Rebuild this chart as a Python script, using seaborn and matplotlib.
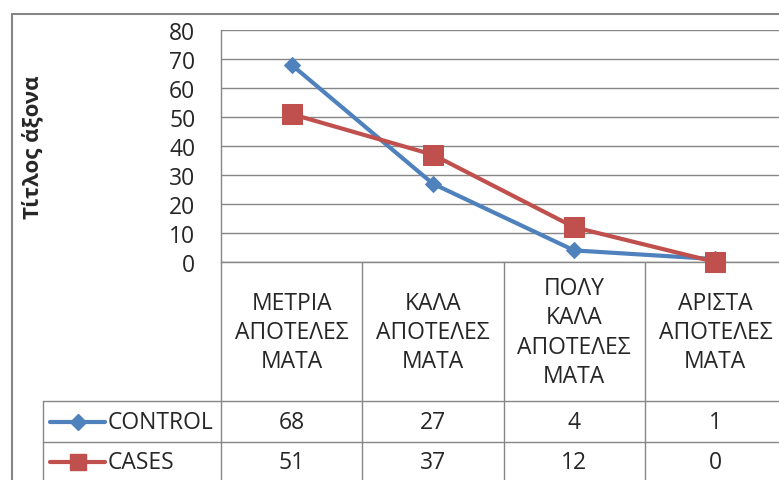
import numpy as np
import pandas as pd
import seaborn as sns
import matplotlib.pyplot as plt
from matplotlib import transforms
from matplotlib.lines import Line2D

#%% Data
categories = ['ΜΕΤΡΙΑ\nΑΠΟΤΕΛΕΣ\nΜΑΤΑ', 'ΚΑΛΑ\nΑΠΟΤΕΛΕΣ\nΜΑΤΑ',
              'ΠΟΛΥ\nΚΑΛΑ\nΑΠΟΤΕΛΕΣ\nΜΑΤΑ', 'ΑΡΙΣΤΑ\nΑΠΟΤΕΛΕΣ\nΜΑΤΑ']
control = [68, 27, 4, 1]
cases = [51, 37, 12, 0]
series_names = ['CONTROL', 'CASES']
y_ticks = [0, 10, 20, 30, 40, 50, 60, 70, 80]
y_title = 'Τίτλος άξονα'

#%% Style
sns.set_style('white')
plt.rcParams['font.family'] = ['Open Sans', 'DejaVu Sans']
FS = 16.5
GRID = '#868686'
BLUE = '#4F81BD'
RED = '#C0504D'

W, H = 779, 481
fig = plt.figure(figsize=(W / 100, H / 100), dpi=100)
fig.patch.set_facecolor('white')

# plot area (extends past the right edge, like the cropped original)
ax = fig.add_axes([221 / W, 1 - 263 / H, 565 / W, 232 / H])

pos = np.arange(len(categories))
df = pd.DataFrame({'pos': np.concatenate([pos, pos]),
                   'value': control + cases,
                   'series': [series_names[0]] * len(pos) + [series_names[1]] * len(pos)})

sns.lineplot(data=df[df['series'] == 'CONTROL'], x='pos', y='value', ax=ax,
             color=BLUE, linewidth=3, marker='D', markersize=8,
             markeredgecolor=BLUE, legend=False, zorder=3, clip_on=False)
sns.lineplot(data=df[df['series'] == 'CASES'], x='pos', y='value', ax=ax,
             color=RED, linewidth=3, marker='s', markersize=14,
             markeredgecolor=RED, legend=False, zorder=4, clip_on=False)

ax.set_xlim(-0.5, len(categories) - 0.5)
ax.set_ylim(0, 80)
ax.set_yticks(y_ticks)
ax.set_xticks([])
ax.set_xlabel('')
ax.grid(axis='y', color=GRID, linewidth=1.0)
ax.tick_params(axis='y', length=0, pad=18.5, labelsize=FS)
for sp in ['top', 'right']:
    ax.spines[sp].set_visible(False)
for sp in ['left', 'bottom']:
    ax.spines[sp].set_color(GRID)
    ax.spines[sp].set_linewidth(1.0)

ax.set_ylabel(y_title, fontsize=FS - 0.5, fontweight='bold', va='center')
ax.yaxis.set_label_coords(-0.333, 0.5)

#%% Data table below the plot
bt = transforms.blended_transform_factory(ax.transData, fig.transFigure)
ft = fig.transFigure

def fy(py):
    return 1 - py / H

# category header
for i, lab in enumerate(categories):
    ax.text(i, fy(333), lab, transform=bt, ha='center', va='center',
            fontsize=FS, linespacing=1.28, clip_on=False)

# column separators
for b in np.arange(len(categories) + 1) - 0.5:
    ax.add_line(Line2D([b, b], [fy(263), fy(490)], transform=bt, color=GRID,
                       lw=1.0, clip_on=False))

# row separators
for py in [402, 443]:
    fig.add_artist(Line2D([43 / W, 1.0], [fy(py), fy(py)], transform=ft,
                          color=GRID, lw=1.0))
fig.add_artist(Line2D([43 / W, 43 / W], [fy(402), fy(490)], transform=ft,
                      color=GRID, lw=1.0))

# series rows: legend key + values
rows = [(series_names[0], control, BLUE, 'D', 8, 423),
        (series_names[1], cases, RED, 's', 12, 463)]
for name, vals, col, mk, ms, py in rows:
    fig.add_artist(Line2D([50 / W, 105 / W], [fy(py), fy(py)], transform=ft,
                          color=col, lw=3))
    fig.add_artist(Line2D([78 / W], [fy(py)], transform=ft, color=col,
                          marker=mk, markersize=ms, markeredgecolor=col, lw=0))
    fig.text(108 / W, fy(py), name, ha='left', va='center', fontsize=FS)
    for i, v in enumerate(vals):
        ax.text(i, fy(py), str(v), transform=bt, ha='center', va='center',
                fontsize=FS, clip_on=False)

# outer chart border
fig.add_artist(Line2D([12 / W, 12 / W], [fy(15), 0], transform=ft, color=GRID, lw=1.5))
fig.add_artist(Line2D([12 / W, 1.0], [fy(15), fy(15)], transform=ft, color=GRID, lw=1.5))

fig.savefig('out.png', dpi=100)
